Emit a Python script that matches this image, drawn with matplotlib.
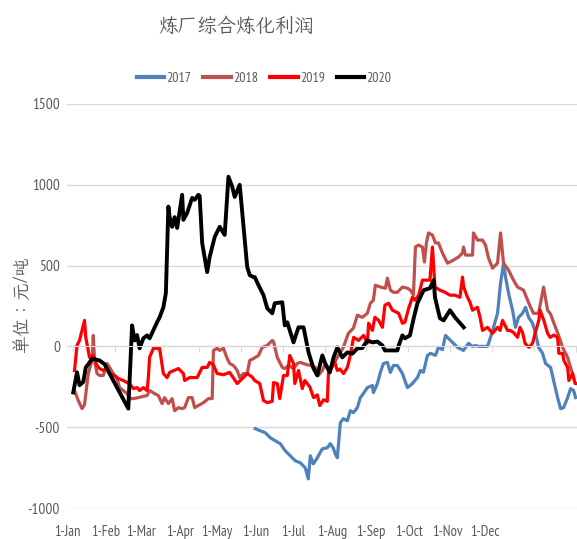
import numpy as np
import matplotlib
matplotlib.use("Agg")
import matplotlib.pyplot as plt

plt.rcParams['axes.unicode_minus'] = False

# x = days since 1-Jan (as laid out on the original axis), y = 元/吨
days_2017 = [150.4, 154.4, 158.4, 162.4, 166.4, 170.4, 174.4, 178.4, 182.4, 186.4, 190.4, 192.8, 194.4,
             196.8, 200, 204, 208, 210.4, 212.8, 214.4, 216, 218.4, 220.8, 224, 226.4, 228.8, 232, 234.4,
             236.8, 240, 244, 244.8, 248, 250.4, 252.8, 256, 258.4, 260.8, 264, 268, 272, 276, 280, 282.4,
             284.8, 288, 290.4, 294.4, 296.8, 300, 302.4, 306.4, 312, 316.8, 320.8, 324, 326.4, 328.8, 336,
             338.4, 340.8, 344, 346.4, 348, 348.8, 350.4, 352.8, 356, 358.4, 360.8, 364, 366.4, 368.8, 372,
             374.4, 376.8, 380, 382.4, 386.4, 388.8, 392, 394.4, 396.8, 400, 402.4, 404.8, 406.4]
vals_2017 = [-509, -522, -534, -565, -584, -602, -646, -677, -708, -720, -752, -820, -677,
             -727, -689, -634, -627, -602, -630, -665, -689, -472, -447, -460, -398, -410, -379, -317,
             -292, -255, -242, -286, -230, -161, -106, -99, -161, -118, -118, -168, -255, -230, -193, -149,
             -160, -56, -43, -55, -6, -20, 68, 37, -6, -25, 19, 0, 5, 0, 0,
             56, 118, 205, 391, 472, 515, 429, 329, 224, 118, 180, 205, 242, 180, 143,
             81, -6, -43, -106, -130, -211, -317, -385, -379, -317, -261, -273, -317]

days_2018 = [6, 9, 12, 14, 17, 20, 21, 22, 24, 26, 29, 32, 34, 37, 40, 42, 48, 50, 53, 58, 64, 66, 70,
             73, 76, 78, 81, 84, 86, 89, 92, 94, 97, 100, 102, 105, 109, 113, 116, 117, 120, 122, 125,
             128, 130, 133, 136, 138, 141, 144, 146, 149, 153, 156, 160, 164, 165, 168, 172, 174, 177,
             181, 184, 186.4, 190.4, 194.4, 198.4, 200.8, 204, 206.4, 210.4, 216, 220.8, 224.8, 228.8,
             232, 236, 240, 242.4, 244.8, 246.4, 250.4, 254.4, 256, 258.4, 260.8, 264, 268, 272, 274.4,
             276.8, 278.4, 280.8, 284, 285.6, 287.2, 288.8, 292, 294.4, 296.8, 300, 304, 308.8, 312.8,
             316, 316.8, 318.4, 324, 324.8, 328, 332, 334.4, 336.8, 340, 344, 346.4, 348.8, 352.8, 356.8,
             360, 364.8, 368, 370.4, 372.8, 376.8, 380.8, 384, 386.4, 388.8, 392.8, 396, 400, 402.4, 404.8]
vals_2018 = [-273, -335, -385, -360, -168, -87, 68, -87, -168, -180, -180, -106, -130, -168, -200, -255,
             -292, -323, -323, -315, -304, -273, -292, -304, -354, -317, -354, -323, -398, -379, -385,
             -379, -317, -317, -379, -366, -348, -323, -323, -25, -12, -25, -12, -75, -106, -118, -149,
             -193, -168, -168, -87, -75, -56, -6, 6, 37, 30, -68, -130, -137, -118, -137, -106, -99,
             -110, -118, -130, -180, -149, -106, -149, -68, -6, 81, 112, 193, 180, 205, 267, 286, 379,
             367, 360, 422, 348, 335, 335, 367, 360, 348, 317, 615, 627, 615, 522, 640, 702, 689, 640,
             640, 578, 515, 534, 553, 578, 615, 565, 565, 702, 658, 658, 627, 547, 484, 515, 702, 515,
             472, 410, 367, 348, 286, 242, 205, 205, 367, 224, 200, 149, 68, -6, -68, -130, -193]

days_2019 = [6, 8, 10, 12, 14, 15, 17, 18, 21, 24, 26, 29, 32, 34, 38, 41, 45, 48, 50, 53, 56, 58, 61,
             64, 65, 66, 69, 72, 74, 77, 80, 82, 89, 93, 94, 98, 104, 108, 112, 114, 117, 120, 125, 130,
             136, 140, 144, 148, 150, 154, 157, 160, 164, 165, 168, 170, 173, 176, 178, 181, 182, 185,
             188, 190, 194, 197, 200, 202, 205, 208, 209, 212, 214, 216, 218, 221, 224, 226, 229, 233,
             237, 240, 241, 244, 246, 249, 252, 254, 257, 260, 265, 268, 270, 273, 276, 278, 281, 284,
             286, 290, 292, 293, 294, 298, 302, 306, 310, 314, 316, 317, 320, 322, 324, 328, 330, 332,
             336, 338, 340, 344, 346, 348, 352, 354, 357, 360, 362, 364, 366, 369, 372, 374, 377, 378,
             381, 384, 386, 389, 392, 393, 396, 397, 400, 401, 404, 406, 407]
vals_2019 = [-149, 6, 37, 99, 161, 56, -25, -68, -55, -118, -137, -149, -130, -168, -180, -199, -211,
             -224, -230, -261, -255, -273, -255, -273, -193, -68, -12, -12, -12, -168, -193, -161, -137,
             -168, -211, -193, -193, -130, -130, -99, -115, -168, -175, -161, -230, -200, -168, -190,
             -211, -230, -335, -348, -340, -224, -230, -323, -180, -180, -56, -106, -230, -149, -261,
             -211, -250, -317, -300, -366, -330, -340, -149, -120, -100, -149, -140, -168, -130, -68,
             56, 37, 68, 20, 143, 99, 180, 161, 118, 255, 267, 224, 205, 143, 150, 236, 304, 286, 317,
             410, 410, 410, 615, 491, 367, 348, 335, 317, 317, 304, 429, 367, 304, 273, 224, 242, 180,
             99, 118, 99, 81, 118, 99, 161, 99, 99, 85, 56, 118, 85, 19, -6, 19, 81, 161, 224, 161, 81,
             56, 70, 56, -43, -43, -87, -130, -211, -168, -230, -230]

days_2020 = [5, 8, 10, 13, 15, 18, 20, 26, 30, 49, 52, 54, 56, 58, 61, 64, 66, 69, 72, 74, 77, 79, 81,
             82, 84, 86, 88, 92, 93, 96, 100, 102, 105, 106, 108, 112, 114, 118, 122, 126, 129, 132, 134,
             138, 144, 146, 149, 150, 153, 157, 160, 164, 166, 172, 174, 176, 178, 181, 185, 189, 193,
             197, 200, 204, 207, 210, 213, 216, 220, 224, 228, 232, 236, 240, 244, 248, 252, 254, 260,
             264, 265, 268, 270, 274, 277, 280, 282, 285, 290, 293, 294, 298, 301, 306, 310, 317]
vals_2020 = [-285, -160, -240, -220, -130, -100, -75, -87, -110, -385, 130, 37, 70, -12, 50, 68, 50,
             100, 150, 180, 242, 330, 865, 800, 740, 800, 733, 938, 783, 826, 919, 907, 938, 930, 640,
             460, 553, 677, 740, 690, 1050, 988, 925, 1000, 491, 441, 429, 429, 379, 317, 236, 205, 267,
             273, 130, 149, 99, 25, 118, 118, -37, -137, -180, -56, -118, -161, -68, -6, -68, -37, -45,
             -12, -10, 37, 25, 30, 6, -25, -25, -25, 5, 68, 50, 68, 174, 267, 300, 348, 360, 410, 304,
             174, 161, 224, 180, 118]

month_days = [0, 31, 59, 90, 120, 151, 181, 212, 243, 273, 304, 334]
month_labels = ['1-Jan', '1-Feb', '1-Mar', '1-Apr', '1-May', '1-Jun',
                '1-Jul', '1-Aug', '1-Sep', '1-Oct', '1-Nov', '1-Dec']

grey = '#595959'
num_font = ['PT Sans Narrow', 'DejaVu Sans']
cjk_font = ['LXGW WenKai TC', 'Noto Sans CJK SC', 'DejaVu Sans']

fig = plt.figure(figsize=(5.77, 5.39), dpi=100)
ax = fig.add_axes([67 / 577, 31 / 539, 510 / 577, 404 / 539])

ax.plot(days_2017, vals_2017, color='#4F81BD', lw=2.3, label='2017')
ax.plot(days_2018, vals_2018, color='#C0504D', lw=2.3, label='2018')
ax.plot(days_2019, vals_2019, color='#FF0000', lw=2.3, label='2019')
ax.plot(days_2020, vals_2020, color='#000000', lw=2.8, label='2020')

ax.set_xlim(0, 407.5)
ax.set_ylim(-1000, 1500)
ax.set_yticks([-1000, -500, 0, 500, 1000, 1500])
ax.yaxis.grid(True, color='#D9D9D9', lw=1)
ax.set_axisbelow(True)
for s in ['top', 'right', 'left']:
    ax.spines[s].set_visible(False)
ax.spines['bottom'].set_position(('data', 0))
ax.spines['bottom'].set_color('#D9D9D9')
ax.set_xticks(np.arange(4.8, 408, 33.5))
ax.tick_params(axis='x', length=4, color='#D9D9D9', labelbottom=False)
ax.tick_params(axis='y', length=0, pad=5, labelcolor=grey)
for t in ax.get_yticklabels():
    t.set_family(num_font)
    t.set_fontsize(11)

sec = ax.secondary_xaxis('bottom')
sec.set_xticks(month_days, labels=month_labels)
sec.tick_params(length=0, pad=12, labelcolor=grey)
sec.spines['bottom'].set_visible(False)
for t in sec.get_xticklabels():
    t.set_family(num_font)
    t.set_fontsize(10.5)

fig.text(236 / 577, 1 - 27 / 539, '炼厂综合炼化利润', ha='center', va='center',
         fontsize=14, color=grey, family=cjk_font)
fig.text(22 / 577, 1 - 305 / 539, '单位：元/吨', ha='center', va='center',
         rotation=90, fontsize=13, color=grey, family=cjk_font)

leg = fig.legend(loc='center', bbox_to_anchor=(264 / 577, 1 - 78 / 539), ncol=4, frameon=False,
                 handlelength=2.0, handletextpad=0.15, columnspacing=0.85,
                 prop={'family': num_font, 'size': 10})
for t in leg.get_texts():
    t.set_color(grey)
for h in leg.get_lines():
    h.set_linewidth(3)

fig.savefig('out.png', dpi=100)
